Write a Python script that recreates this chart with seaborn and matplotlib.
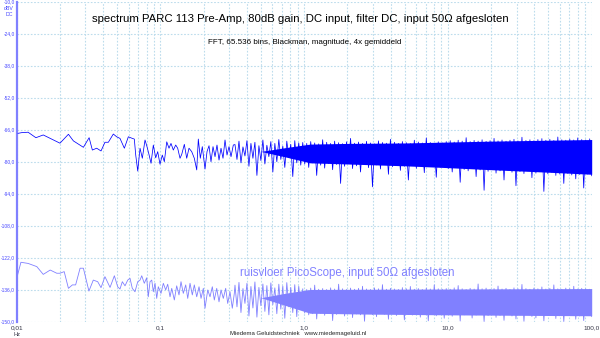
import numpy as np
import pandas as pd
import matplotlib
matplotlib.use("Agg")
import matplotlib.pyplot as plt
import seaborn as sns
from matplotlib.ticker import FixedLocator, FixedFormatter, LogLocator, NullFormatter

# ---------------- data ----------------
# PARC 113 pre-amp spectrum, resolved low-frequency part (Hz, dBV)
dark_lo_freq = [0.0102, 0.0108, 0.0120, 0.0136, 0.0153, 0.0175, 0.0200, 0.0229, 0.0248, 0.0291,
                0.0319, 0.0336, 0.0360, 0.0386, 0.0411, 0.0434, 0.0470, 0.0496, 0.0523, 0.0561,
                0.0598, 0.0637, 0.0658, 0.0673, 0.0695, 0.0721, 0.0748, 0.0781, 0.0806, 0.0832,
                0.0860, 0.0892, 0.0927, 0.0957, 0.0993, 0.1030, 0.1064, 0.1106, 0.1147, 0.1184,
                0.1229, 0.1277, 0.1318, 0.1368, 0.1406, 0.1466, 0.1523, 0.1580, 0.1650, 0.1720,
                0.1788, 0.1834, 0.1894, 0.1955, 0.2042, 0.2108, 0.2177, 0.2247, 0.2321, 0.2397,
                0.2474, 0.2555, 0.2638, 0.2724, 0.2813, 0.2904, 0.2999, 0.3097, 0.3213]
dark_lo_db = [-67.6, -67.3, -67.1, -69.5, -68.3, -70.1, -71.9, -68.0, -70.9, -73.7,
              -69.5, -74.9, -74.1, -75.3, -71.5, -71.5, -67.9, -69.1, -69.8, -74.1,
              -69.1, -69.8, -70.1, -77.1, -84.1, -74.1, -78.5, -70.5, -73.4, -76.8,
              -80.7, -72.7, -78.3, -75.6, -81.1, -77.1, -80.0, -71.3, -74.1, -72.0,
              -74.9, -72.7, -74.1, -78.5, -76.8, -72.4, -78.5, -74.1, -75.6, -78.5,
              -83.6, -70.1, -78.5, -73.4, -83.2, -75.6, -73.0, -80.0, -73.4, -77.8,
              -72.7, -79.3, -74.1, -78.5, -70.5, -77.1, -73.4, -77.8, -72.7]

# PARC 113, dense part 0.33 .. 100 Hz (decimated peaks / dips, dBV)
dark_hi_db = [
    -72.5, -79.0, -71.0, -80.5, -73.5, -77.5, -70.8, -82.0, -72.0, -78.5, -71.5, -86.0,
    -73.0, -79.5, -70.5, -81.0, -72.8, -77.8, -71.2, -84.5, -72.0, -80.0, -70.3, -79.0,
    -73.2, -82.5, -71.0, -78.0, -72.4, -86.5, -70.8, -80.5, -71.8, -81.5,
    -71.6, -81.0, -72.0, -82.5, -71.2, -80.5, -71.8, -86.0, -72.2, -81.5, -70.4, -82.8,
    -71.5, -80.8, -72.0, -83.5, -71.0, -81.2, -71.7, -89.5, -72.1, -82.0, -71.3, -80.6,
    -69.8, -83.0, -71.9, -81.8, -71.4, -84.5, -72.0, -80.9, -71.1, -82.6, -71.8, -91.0,
    -72.2, -81.4, -70.9, -83.2, -71.6, -80.7, -71.9, -85.5, -70.2, -82.2, -71.5, -81.0,
    -72.0, -83.8, -71.2, -82.0, -71.7, -88.0, -72.1, -81.3, -70.6, -82.9, -71.4, -80.8,
    -71.8, -84.8, -69.6, -82.1, -71.6, -81.6, -72.0, -86.8, -71.3, -82.4, -71.8, -81.1,
    -71.2, -83.0, -70.8, -84.5, -71.4, -82.6, -70.6, -89.0, -71.0, -83.4, -69.5, -84.0,
    -71.2, -82.8, -70.7, -86.5, -71.0, -83.6, -70.4, -92.5, -71.1, -84.2, -70.8, -83.1,
    -69.8, -85.0, -70.9, -84.0, -70.5, -88.0, -71.0, -83.8, -70.6, -84.6, -70.2, -90.5,
    -70.9, -84.3, -69.3, -85.2, -70.7, -84.0, -70.4, -87.0, -70.8, -85.0, -70.3, -84.4,
    -69.9, -93.0, -70.6, -85.3, -70.2, -84.6, -70.7, -86.0, -69.2, -85.4, -70.4, -89.5,
    -70.6, -85.1, -70.1, -85.8, -70.5, -87.5, -69.6, -85.6, -70.3, -91.5, -70.5, -85.4,
    -70.0, -86.2]

# PARC 113, solid core of the noise band
dark_core_freq = [0.5, 0.75, 1.1, 2.0, 5.0, 10.0, 20.0, 50.0, 100.0]
dark_core_top = [-75.5, -73.8, -72.3, -72.0, -71.8, -71.4, -71.0, -70.6, -70.3]
dark_core_bot = [-75.5, -78.0, -80.5, -81.0, -81.8, -82.6, -83.5, -84.6, -85.5]

# PicoScope noise floor, resolved low-frequency part (Hz, dBV)
light_lo_freq = [0.0101, 0.0107, 0.0120, 0.0138, 0.0153, 0.0171, 0.0190, 0.0200, 0.0214, 0.0229,
                 0.0244, 0.0257, 0.0276, 0.0291, 0.0318, 0.0341, 0.0366, 0.0386, 0.0411, 0.0446,
                 0.0478, 0.0504, 0.0523, 0.0543, 0.0567, 0.0592, 0.0614, 0.0637, 0.0665, 0.0695,
                 0.0721, 0.0741, 0.0772, 0.0802, 0.0823, 0.0846, 0.0870, 0.0892, 0.0917, 0.0942,
                 0.0966, 0.1009, 0.1047, 0.1088, 0.1123, 0.1166, 0.1198, 0.1249, 0.1297, 0.1346,
                 0.1390, 0.1442, 0.1499, 0.1548, 0.1606, 0.1666, 0.1720, 0.1788, 0.1855, 0.1916,
                 0.1987, 0.2042, 0.2133, 0.2212, 0.2295, 0.2370, 0.2463, 0.2555, 0.2638, 0.2737,
                 0.2844, 0.2937, 0.3047, 0.3161, 0.3265]
light_lo_db = [-130.0, -124.0, -124.5, -125.9, -129.3, -127.4, -128.8, -128.8, -128.1, -135.4,
               -133.9, -133.9, -126.6, -126.6, -136.6, -131.8, -132.5, -135.1, -130.3, -135.0,
               -129.9, -134.7, -135.7, -132.5, -134.3, -131.8, -131.0, -135.4, -136.9, -132.5,
               -131.8, -129.9, -133.2, -130.8, -139.1, -132.5, -131.8, -136.9, -133.2, -139.8,
               -134.7, -137.6, -133.2, -136.1, -133.6, -139.1, -135.4, -140.5, -134.3, -138.3,
               -132.5, -137.6, -133.9, -139.8, -133.2, -138.3, -133.9, -139.1, -134.7, -139.8,
               -135.4, -144.1, -136.1, -139.1, -134.7, -140.5, -135.4, -141.3, -136.1, -139.8,
               -135.4, -142.0, -136.9, -144.1, -137.6]

# PicoScope, dense part 0.33 .. 100 Hz
light_hi_db = [
    -134.0, -143.5, -132.8, -146.0, -135.5, -142.0, -133.2, -147.5, -134.6, -144.0, -132.6, -148.0,
    -135.0, -143.0, -133.5, -145.5, -134.2, -147.0, -133.0, -142.5, -135.2, -146.5, -133.6, -144.5,
    -134.4, -148.5, -132.9, -143.5, -135.0, -146.0, -133.8, -147.8, -134.5, -144.2,
    -135.6, -146.2, -135.9, -147.0, -135.3, -146.5, -134.0, -148.8, -135.8, -146.3, -135.5, -147.2,
    -135.9, -146.0, -135.2, -149.5, -135.7, -146.8, -133.6, -146.4, -135.6, -147.5, -135.9, -146.1,
    -135.3, -148.2, -135.8, -146.6, -135.4, -147.0, -134.5, -149.8, -135.7, -146.3, -135.9, -146.9,
    -135.2, -147.8, -135.6, -146.2, -133.8, -146.7, -135.8, -148.9, -135.4, -146.4, -135.7, -147.3,
    -135.9, -146.0, -135.1, -149.2, -135.6, -146.8, -134.6, -147.1, -135.8, -146.5, -135.5, -148.0,
    -135.9, -146.2, -135.3, -149.6, -135.7, -146.9, -133.9, -147.4, -135.6, -146.3, -135.8, -148.5,
    -135.5, -146.8, -135.8, -147.6, -135.2, -146.5, -134.2, -149.7, -135.6, -147.0, -135.9, -146.6,
    -135.4, -148.4, -135.7, -147.1, -133.5, -146.9, -135.6, -149.9, -135.3, -147.3, -135.8, -146.7,
    -135.5, -148.1, -134.4, -147.2, -135.7, -149.4, -135.4, -146.8, -135.9, -147.5, -135.2, -148.8,
    -135.6, -147.0, -133.7, -149.8, -135.5, -146.9, -135.8, -147.7, -135.3, -148.3, -135.6, -147.1,
    -134.8, -149.6, -135.7, -147.0, -135.4, -146.8, -133.9, -148.6, -135.6, -147.4, -135.8, -149.9,
    -135.3, -147.2, -135.6, -146.9, -134.5, -148.9, -135.7, -147.5, -135.4, -149.5, -135.6, -147.1,
    -135.8, -147.8]

light_core_freq = [0.5, 0.75, 1.1, 3.0, 10.0, 30.0, 100.0]
light_core_top = [-139.5, -137.5, -135.9, -135.8, -135.7, -135.6, -135.5]
light_core_bot = [-139.5, -143.0, -146.3, -146.7, -147.0, -147.2, -147.4]

hi_freq_range = (0.33, 100.0)

y_ticks = [-150, -136, -122, -108, -94, -80, -66, -52, -38, -24, -10]
x_ticks = [0.01, 0.1, 1.0, 10.0, 100.0]
x_tick_labels = ["0,01", "0,1", "1,0", "10,0", "100,0"]

title = "spectrum PARC 113 Pre-Amp, 80dB gain, DC input, filter DC, input 50\u03a9 afgesloten"
subtitle = "FFT, 65.536 bins, Blackman, magnitude, 4x gemiddeld"
floor_label = "ruisvloer PicoScope, input 50\u03a9 afgesloten"
credit = "Miedema Geluidstechniek   www.miedemageluid.nl"

# ---------------- figure ----------------
sns.set_theme(style="white")
plt.rcParams['font.family'] = ['Liberation Sans', 'DejaVu Sans']

DARK = "#0000ff"
LIGHT = "#8080ff"
AXBLUE = "#4646ff"
GRID = "#bcdcec"

fig = plt.figure(figsize=(6.0, 3.38), dpi=100)
ax = fig.add_axes([16.7 / 600, 1 - 321.7 / 338, 575.0 / 600, 320.0 / 338])
ax.set_xscale('log')

hi_freq_dark = np.geomspace(hi_freq_range[0], hi_freq_range[1], len(dark_hi_db))
hi_freq_light = np.geomspace(hi_freq_range[0], hi_freq_range[1], len(light_hi_db))

df_dark = pd.DataFrame({"f": list(dark_lo_freq) + list(hi_freq_dark),
                        "db": list(dark_lo_db) + list(dark_hi_db)})
df_light = pd.DataFrame({"f": list(light_lo_freq) + list(hi_freq_light),
                         "db": list(light_lo_db) + list(light_hi_db)})

ax.fill_between(light_core_freq, light_core_bot, light_core_top, color=LIGHT, lw=0, zorder=2)
ax.fill_between(dark_core_freq, dark_core_bot, dark_core_top, color=DARK, lw=0, zorder=2)

sns.lineplot(data=df_light, x="f", y="db", ax=ax, estimator=None, sort=False,
             color=LIGHT, lw=0.6, zorder=3)
sns.lineplot(data=df_dark, x="f", y="db", ax=ax, estimator=None, sort=False,
             color=DARK, lw=0.55, zorder=3)

ax.set_xlim(0.01, 100)
ax.set_ylim(-150, -10)
ax.set_xlabel("")
ax.set_ylabel("")

ax.yaxis.set_major_locator(FixedLocator(y_ticks))
ax.yaxis.set_major_formatter(FixedFormatter([f"{v:.1f}".replace(".", ",") for v in y_ticks]))
ax.xaxis.set_major_locator(FixedLocator(x_ticks))
ax.xaxis.set_major_formatter(FixedFormatter(x_tick_labels))
ax.xaxis.set_minor_locator(LogLocator(base=10, subs=range(2, 10)))
ax.xaxis.set_minor_formatter(NullFormatter())

ax.grid(True, which='both', axis='x', color=GRID, ls=(0, (1.5, 1.5)), lw=0.8, zorder=0)
ax.grid(True, which='major', axis='y', color=GRID, ls=(0, (1.5, 1.5)), lw=0.8, zorder=0)

for s in ["top", "right", "bottom"]:
    ax.spines[s].set_visible(False)
ax.spines["left"].set_color("#8080ff")
ax.spines["left"].set_linewidth(1.6)

ax.tick_params(axis='y', which='both', length=1.0, width=0.6, color="#8080ff",
               labelsize=3.5, labelcolor=AXBLUE, pad=0.4)
ax.tick_params(axis='x', which='both', length=0, labelsize=4.6, labelcolor="#333344", pad=2.5)

fig.text(9 / 600, 1 - 8 / 338, "dBV", fontsize=3.8, color=AXBLUE, ha='center', va='center')
fig.text(9 / 600, 1 - 15 / 338, "DC", fontsize=3.8, color=AXBLUE, ha='center', va='center')
fig.text(17 / 600, 1 - 335 / 338, "Hz", fontsize=4.1, color="#333344", ha='center', va='center')

fig.text(300 / 600, 1 - 19 / 338, title, fontsize=8.2, color="black", ha='center', va='center')
fig.text(305 / 600, 1 - 42 / 338, subtitle, fontsize=5.8, color="black", ha='center', va='center')
fig.text(347 / 600, 1 - 273 / 338, floor_label, fontsize=8.3, color=LIGHT, ha='center', va='center')
fig.text(298 / 600, 1 - 334 / 338, credit, fontsize=4.3, color="#222222", ha='center', va='center')

fig.savefig("out.png", dpi=100, facecolor="white")
